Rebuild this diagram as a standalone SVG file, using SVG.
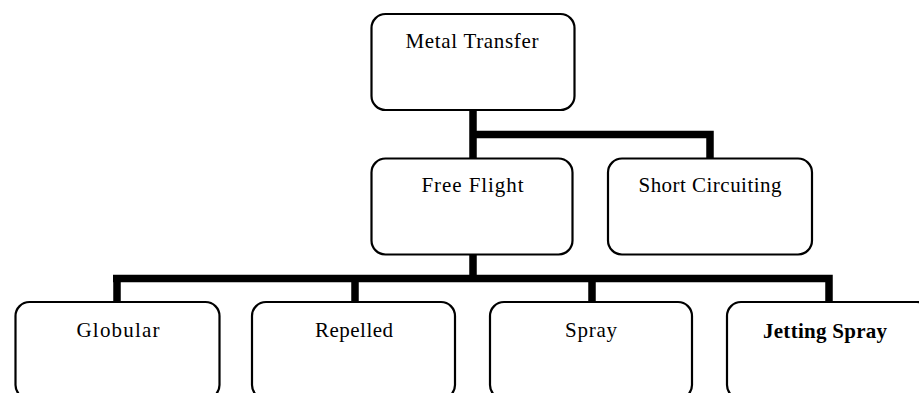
<svg xmlns="http://www.w3.org/2000/svg" width="919" height="393" viewBox="0 0 919 393">
<style>
.box{fill:#fff;stroke:#000;stroke-width:2.2}
.lbl{font-family:"Liberation Serif","Times New Roman",serif;font-size:21px;fill:#000;text-anchor:middle}
.b{font-weight:bold}
.con{fill:none;stroke:#000;stroke-width:7.5;stroke-linejoin:miter;stroke-linecap:butt}
</style>
<rect width="919" height="393" fill="#fff"/>
<g id="connectors">
<path class="con" d="M473 110 V158 M469.3 134.5 H710 V158"/>
<path class="con" d="M473 255 V278.5 M113 278.5 H832.75 M117 275 V302 M355 275 V302 M592 275 V302 M829 275 V302"/>
</g>
<g id="metal-transfer">
<rect class="box" x="371.5" y="14" width="203" height="96" rx="14"/>
<text class="lbl" x="472" y="48" textLength="133" lengthAdjust="spacing">Metal Transfer</text>
</g>
<g id="free-flight">
<rect class="box" x="371.5" y="158.5" width="201" height="96" rx="14"/>
<text class="lbl" x="472.5" y="191.5" textLength="102" lengthAdjust="spacing">Free Flight</text>
</g>
<g id="short-circuiting">
<rect class="box" x="608" y="158.5" width="204" height="96" rx="14"/>
<text class="lbl" x="710" y="191.5" textLength="143" lengthAdjust="spacing">Short Circuiting</text>
</g>
<g id="globular">
<rect class="box" x="15.5" y="302" width="204" height="97" rx="14"/>
<text class="lbl" x="118" y="337" textLength="83" lengthAdjust="spacing">Globular</text>
</g>
<g id="repelled">
<rect class="box" x="252" y="302" width="203" height="97" rx="14"/>
<text class="lbl" x="354" y="337" textLength="78" lengthAdjust="spacing">Repelled</text>
</g>
<g id="spray">
<rect class="box" x="490" y="302" width="202" height="97" rx="14"/>
<text class="lbl" x="591" y="337" textLength="52" lengthAdjust="spacing">Spray</text>
</g>
<g id="jetting-spray">
<rect class="box" x="727" y="302" width="204" height="97" rx="14"/>
<text class="lbl b" x="825" y="338" textLength="124" lengthAdjust="spacing">Jetting Spray</text>
</g>
</svg>
